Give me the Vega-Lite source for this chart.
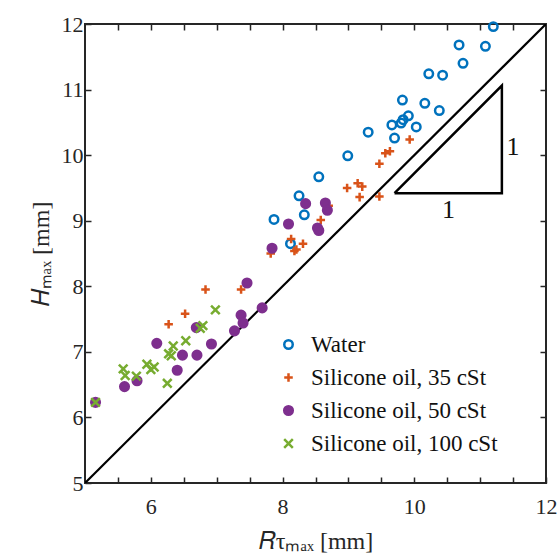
{
  "$schema": "https://vega.github.io/schema/vega-lite/v6.json",
  "width": 461,
  "height": 459,
  "autosize": {"type": "none"},
  "padding": {"left": 85, "top": 24, "right": 14, "bottom": 74},
  "background": "white",
  "config": {
    "font": "Liberation Serif",
    "view": {"stroke": "#262626", "strokeWidth": 2},
    "axis": {
      "grid": false,
      "domain": false,
      "tickColor": "#262626",
      "tickWidth": 1.5,
      "tickSize": -6,
      "labelFont": "Liberation Serif",
      "labelFontSize": 22,
      "labelColor": "#262626",
      "titleFont": "Liberation Serif",
      "titleFontSize": 24,
      "titleFontWeight": "normal",
      "titleColor": "#262626"
    },
    "legend": {
      "labelFont": "Liberation Serif",
      "labelFontSize": 23,
      "labelColor": "#111111",
      "labelLimit": 400,
      "symbolStrokeWidth": 2.5
    }
  },
  "datasets": {
    "pts": [
      {"r": 11.20, "h": 11.96, "s": "Water"},
      {"r": 10.68, "h": 11.68, "s": "Water"},
      {"r": 11.08, "h": 11.66, "s": "Water"},
      {"r": 10.74, "h": 11.40, "s": "Water"},
      {"r": 10.22, "h": 11.24, "s": "Water"},
      {"r": 10.43, "h": 11.22, "s": "Water"},
      {"r": 9.82, "h": 10.84, "s": "Water"},
      {"r": 10.16, "h": 10.79, "s": "Water"},
      {"r": 10.38, "h": 10.68, "s": "Water"},
      {"r": 9.91, "h": 10.60, "s": "Water"},
      {"r": 9.83, "h": 10.54, "s": "Water"},
      {"r": 9.80, "h": 10.49, "s": "Water"},
      {"r": 9.66, "h": 10.46, "s": "Water"},
      {"r": 10.03, "h": 10.43, "s": "Water"},
      {"r": 9.70, "h": 10.26, "s": "Water"},
      {"r": 9.30, "h": 10.35, "s": "Water"},
      {"r": 8.99, "h": 9.99, "s": "Water"},
      {"r": 8.55, "h": 9.67, "s": "Water"},
      {"r": 8.25, "h": 9.38, "s": "Water"},
      {"r": 8.33, "h": 9.09, "s": "Water"},
      {"r": 7.87, "h": 9.02, "s": "Water"},
      {"r": 8.12, "h": 8.65, "s": "Water"},
      {"r": 9.93, "h": 10.24, "s": "Silicone oil, 35 cSt"},
      {"r": 9.56, "h": 10.03, "s": "Silicone oil, 35 cSt"},
      {"r": 9.63, "h": 10.06, "s": "Silicone oil, 35 cSt"},
      {"r": 9.47, "h": 9.87, "s": "Silicone oil, 35 cSt"},
      {"r": 9.14, "h": 9.57, "s": "Silicone oil, 35 cSt"},
      {"r": 8.98, "h": 9.50, "s": "Silicone oil, 35 cSt"},
      {"r": 9.21, "h": 9.52, "s": "Silicone oil, 35 cSt"},
      {"r": 9.17, "h": 9.36, "s": "Silicone oil, 35 cSt"},
      {"r": 9.47, "h": 9.37, "s": "Silicone oil, 35 cSt"},
      {"r": 8.70, "h": 9.23, "s": "Silicone oil, 35 cSt"},
      {"r": 8.58, "h": 9.01, "s": "Silicone oil, 35 cSt"},
      {"r": 8.13, "h": 8.72, "s": "Silicone oil, 35 cSt"},
      {"r": 8.31, "h": 8.65, "s": "Silicone oil, 35 cSt"},
      {"r": 8.18, "h": 8.54, "s": "Silicone oil, 35 cSt"},
      {"r": 8.21, "h": 8.56, "s": "Silicone oil, 35 cSt"},
      {"r": 7.82, "h": 8.50, "s": "Silicone oil, 35 cSt"},
      {"r": 6.83, "h": 7.95, "s": "Silicone oil, 35 cSt"},
      {"r": 7.37, "h": 7.95, "s": "Silicone oil, 35 cSt"},
      {"r": 6.52, "h": 7.58, "s": "Silicone oil, 35 cSt"},
      {"r": 6.27, "h": 7.42, "s": "Silicone oil, 35 cSt"},
      {"r": 8.35, "h": 9.26, "s": "Silicone oil, 50 cSt"},
      {"r": 8.65, "h": 9.27, "s": "Silicone oil, 50 cSt"},
      {"r": 8.68, "h": 9.16, "s": "Silicone oil, 50 cSt"},
      {"r": 8.09, "h": 8.95, "s": "Silicone oil, 50 cSt"},
      {"r": 8.53, "h": 8.89, "s": "Silicone oil, 50 cSt"},
      {"r": 8.55, "h": 8.85, "s": "Silicone oil, 50 cSt"},
      {"r": 7.84, "h": 8.58, "s": "Silicone oil, 50 cSt"},
      {"r": 7.46, "h": 8.05, "s": "Silicone oil, 50 cSt"},
      {"r": 7.69, "h": 7.67, "s": "Silicone oil, 50 cSt"},
      {"r": 7.37, "h": 7.56, "s": "Silicone oil, 50 cSt"},
      {"r": 7.40, "h": 7.44, "s": "Silicone oil, 50 cSt"},
      {"r": 7.27, "h": 7.32, "s": "Silicone oil, 50 cSt"},
      {"r": 6.69, "h": 7.37, "s": "Silicone oil, 50 cSt"},
      {"r": 6.09, "h": 7.13, "s": "Silicone oil, 50 cSt"},
      {"r": 6.92, "h": 7.12, "s": "Silicone oil, 50 cSt"},
      {"r": 6.48, "h": 6.95, "s": "Silicone oil, 50 cSt"},
      {"r": 6.70, "h": 6.95, "s": "Silicone oil, 50 cSt"},
      {"r": 6.40, "h": 6.72, "s": "Silicone oil, 50 cSt"},
      {"r": 5.79, "h": 6.56, "s": "Silicone oil, 50 cSt"},
      {"r": 5.60, "h": 6.47, "s": "Silicone oil, 50 cSt"},
      {"r": 5.16, "h": 6.23, "s": "Silicone oil, 50 cSt"},
      {"r": 5.16, "h": 6.23, "s": "Silicone oil, 100 cSt"},
      {"r": 6.98, "h": 7.64, "s": "Silicone oil, 100 cSt"},
      {"r": 6.79, "h": 7.40, "s": "Silicone oil, 100 cSt"},
      {"r": 6.75, "h": 7.36, "s": "Silicone oil, 100 cSt"},
      {"r": 6.53, "h": 7.17, "s": "Silicone oil, 100 cSt"},
      {"r": 6.34, "h": 7.09, "s": "Silicone oil, 100 cSt"},
      {"r": 6.27, "h": 6.97, "s": "Silicone oil, 100 cSt"},
      {"r": 6.31, "h": 6.94, "s": "Silicone oil, 100 cSt"},
      {"r": 5.94, "h": 6.81, "s": "Silicone oil, 100 cSt"},
      {"r": 6.05, "h": 6.77, "s": "Silicone oil, 100 cSt"},
      {"r": 6.00, "h": 6.73, "s": "Silicone oil, 100 cSt"},
      {"r": 5.58, "h": 6.74, "s": "Silicone oil, 100 cSt"},
      {"r": 5.61, "h": 6.64, "s": "Silicone oil, 100 cSt"},
      {"r": 5.78, "h": 6.63, "s": "Silicone oil, 100 cSt"},
      {"r": 6.25, "h": 6.52, "s": "Silicone oil, 100 cSt"}
    ],
    "diag": [
      {"r": 5, "h": 5},
      {"r": 12, "h": 12}
    ],
    "tri": [
      {"r": 9.70, "h": 9.42, "o": 1},
      {"r": 11.33, "h": 9.42, "o": 2},
      {"r": 11.33, "h": 11.06, "o": 3},
      {"r": 9.70, "h": 9.42, "o": 4}
    ],
    "lab": [
      {"r": 11.50, "h": 10.13, "t": "1"},
      {"r": 10.52, "h": 9.17, "t": "1"}
    ]
  },
  "resolve": {"axis": {"x": "independent", "y": "independent"}},
  "layer": [
    {
      "data": {"name": "diag"},
      "mark": {"type": "line", "color": "black", "strokeWidth": 2.2, "clip": true},
      "encoding": {
        "x": {
          "field": "r", "type": "quantitative",
          "scale": {"domain": [5, 12], "nice": false, "zero": false},
          "axis": {
            "orient": "bottom",
            "values": [5.5, 6, 6.5, 7, 7.5, 8, 8.5, 9, 9.5, 10, 10.5, 11, 11.5, 12],
            "labelExpr": "datum.value % 2 == 0 ? format(datum.value, 'd') : ''",
            "labelFont": "Liberation Serif",
            "labelFontSize": 22,
            "labelPadding": 19,
            "labelFlush": false,
            "title": "𝑅τₘₐₓ [mm]",
            "titleFont": "Liberation Serif",
            "titleFontSize": 24,
            "titlePadding": 12
          }
        },
        "y": {
          "field": "h", "type": "quantitative",
          "scale": {"domain": [5, 12], "nice": false, "zero": false},
          "axis": {
            "orient": "left",
            "values": [5, 6, 7, 8, 9, 10, 11, 12],
            "labelExpr": "format(datum.value, 'd')",
            "labelFont": "Liberation Serif",
            "labelFontSize": 22,
            "labelFlush": false,
            "labelPadding": 8,
            "title": "𝐻ₘₐₓ [mm]",
            "titleFont": "Liberation Serif",
            "titleFontSize": 24,
            "titlePadding": 8
          }
        }
      }
    },
    {
      "data": {"name": "tri"},
      "mark": {"type": "line", "color": "black", "strokeWidth": 2.5, "strokeJoin": "miter"},
      "encoding": {
        "x": {
          "field": "r", "type": "quantitative",
          "axis": {
            "orient": "top",
            "values": [5.5, 6, 6.5, 7, 7.5, 8, 8.5, 9, 9.5, 10, 10.5, 11, 11.5],
            "labels": false,
            "title": null
          }
        },
        "y": {
          "field": "h", "type": "quantitative",
          "axis": {
            "orient": "right",
            "values": [6, 7, 8, 9, 10, 11],
            "labels": false,
            "title": null
          }
        },
        "order": {"field": "o", "type": "quantitative"}
      }
    },
    {
      "data": {"name": "lab"},
      "mark": {"type": "text", "font": "Liberation Serif", "fontSize": 26, "color": "#111111"},
      "encoding": {
        "x": {"field": "r", "type": "quantitative", "axis": null},
        "y": {"field": "h", "type": "quantitative", "axis": null},
        "text": {"field": "t"}
      }
    },
    {
      "data": {"name": "pts"},
      "mark": {"type": "point", "strokeWidth": 2.5, "opacity": 1},
      "encoding": {
        "x": {"field": "r", "type": "quantitative", "axis": null},
        "y": {"field": "h", "type": "quantitative", "axis": null},
        "stroke": {
          "field": "s", "type": "nominal",
          "scale": {
            "domain": ["Water", "Silicone oil, 35 cSt", "Silicone oil, 50 cSt", "Silicone oil, 100 cSt"],
            "range": ["#0072BD", "#D95319", "#7E2F8E", "#77AC30"]
          },
          "legend": {
            "title": null,
            "orient": "none",
            "legendX": 192,
            "legendY": 309,
            "rowPadding": 9,
            "labelOffset": 11,
            "labelFont": "Liberation Serif",
            "labelFontSize": 23,
            "labelLimit": 400
          }
        },
        "fill": {
          "field": "s", "type": "nominal",
          "scale": {
            "domain": ["Water", "Silicone oil, 35 cSt", "Silicone oil, 50 cSt", "Silicone oil, 100 cSt"],
            "range": ["transparent", "transparent", "#7E2F8E", "transparent"]
          },
          "legend": {
            "title": null,
            "orient": "none",
            "legendX": 192,
            "legendY": 309,
            "rowPadding": 9,
            "labelOffset": 11,
            "labelFont": "Liberation Serif",
            "labelFontSize": 23,
            "labelLimit": 400
          }
        },
        "shape": {
          "field": "s", "type": "nominal",
          "scale": {
            "domain": ["Water", "Silicone oil, 35 cSt", "Silicone oil, 50 cSt", "Silicone oil, 100 cSt"],
            "range": ["circle", "M-1,0L1,0M0,-1L0,1", "circle", "M-1,-1L1,1M-1,1L1,-1"]
          },
          "legend": {
            "title": null,
            "orient": "none",
            "legendX": 192,
            "legendY": 309,
            "rowPadding": 9,
            "labelOffset": 11,
            "labelFont": "Liberation Serif",
            "labelFontSize": 23,
            "labelLimit": 400
          }
        },
        "size": {
          "field": "s", "type": "nominal",
          "scale": {
            "domain": ["Water", "Silicone oil, 35 cSt", "Silicone oil, 50 cSt", "Silicone oil, 100 cSt"],
            "range": [72, 75, 22, 42]
          },
          "legend": {
            "title": null,
            "orient": "none",
            "legendX": 192,
            "legendY": 309,
            "rowPadding": 9,
            "labelOffset": 11,
            "labelFont": "Liberation Serif",
            "labelFontSize": 23,
            "labelLimit": 400
          }
        }
      }
    }
  ]
}
